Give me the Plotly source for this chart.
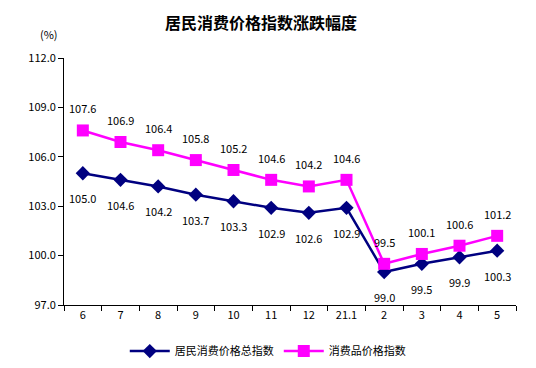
import plotly.graph_objects as go

categories = ["6", "7", "8", "9", "10", "11", "12", "21.1", "2", "3", "4", "5"]
cpi_total = [105.0, 104.6, 104.2, 103.7, 103.3, 102.9, 102.6, 102.9, 99.0, 99.5, 99.9, 100.3]
cpi_goods = [107.6, 106.9, 106.4, 105.8, 105.2, 104.6, 104.2, 104.6, 99.5, 100.1, 100.6, 101.2]
name_total = "居民消费价格总指数"
name_goods = "消费品价格指数"
y_ticks = [97.0, 100.0, 103.0, 106.0, 109.0, 112.0]

FONT = "Noto Sans CJK SC"
NAVY = "#000080"
MAG = "#FF00FF"

fig = go.Figure()
fig.add_trace(go.Scatter(
    x=categories, y=cpi_total, name=name_total, mode="lines+markers",
    line=dict(color=NAVY, width=2.5),
    marker=dict(symbol="diamond", size=11, color=NAVY),
))
fig.add_trace(go.Scatter(
    x=categories, y=cpi_goods, name=name_goods, mode="lines+markers",
    line=dict(color=MAG, width=2.5),
    marker=dict(symbol="square", size=12, color=MAG),
))

for i, v in enumerate(cpi_total):
    fig.add_annotation(x=i, y=v, text=f"{v:.1f}", showarrow=False, yshift=-25,
                       font=dict(family=FONT, size=11, color="black"))
for i, v in enumerate(cpi_goods):
    fig.add_annotation(x=i, y=v, text=f"{v:.1f}", showarrow=False, yshift=22,
                       font=dict(family=FONT, size=11, color="black"))

fig.add_annotation(xref="paper", yref="paper", x=-0.058, y=1.137, text="(%)",
                   showarrow=False, font=dict(family=FONT, size=11, color="black"))

fig.update_layout(
    width=528, height=360,
    margin=dict(l=56, r=20, t=50, b=63, autoexpand=False),
    paper_bgcolor="white", plot_bgcolor="white",
    font=dict(family=FONT, size=11, color="black"),
    title=dict(text="<b>居民消费价格指数涨跌幅度</b>", x=0.479, xanchor="center",
               y=0.958, yanchor="middle", font=dict(family=FONT, size=16, color="black")),
    showlegend=True,
    legend=dict(orientation="h", xref="container", yref="container",
                x=0.492, xanchor="center", y=0.047, yanchor="middle",
                font=dict(family=FONT, size=11, color="black"), itemwidth=40,
                tracegroupgap=0),
    xaxis=dict(type="category", range=[-0.5, len(categories) - 0.5], tickangle=0,
               showline=True, linecolor="black", linewidth=1,
               ticks="outside", tickson="boundaries", ticklen=5, tickcolor="black",
               showgrid=False, zeroline=False, mirror=False, automargin=False),
    yaxis=dict(range=[97, 112], tickvals=y_ticks, ticktext=[f"{t:.1f}" for t in y_ticks],
               showline=True, linecolor="black", linewidth=1, ticks="outside", ticklen=5,
               tickcolor="black", showgrid=False, zeroline=False, automargin=False),
)

fig.write_html("out.html")
